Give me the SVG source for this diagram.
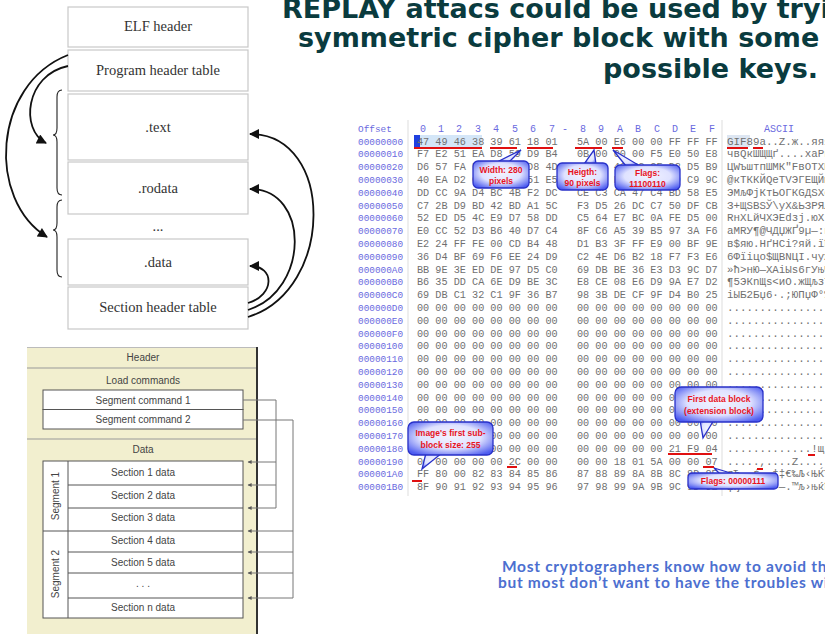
<svg xmlns="http://www.w3.org/2000/svg" width="825" height="635" viewBox="0 0 825 635">
<style>
.elfbox{fill:#fff;stroke:#c8c8c8;stroke-width:1.2}
.elft{font-family:"Liberation Serif",serif;font-size:14.5px;fill:#333;text-anchor:middle}
.arr{fill:none;stroke:#111;stroke-width:1.8}
.brace{fill:none;stroke:#222;stroke-width:1.1}
.mt{font-family:"Liberation Sans",Arial,sans-serif;font-size:10px;fill:#444;text-anchor:middle}
.mbox{fill:#fff;stroke:#555;stroke-width:1}
.mline{fill:none;stroke:#777;stroke-width:1}
.title{font-family:"DejaVu Sans",sans-serif;font-weight:bold;font-size:27px;fill:#0a3b3e}
.off{font-family:"Liberation Mono",monospace;font-size:9.4px;fill:#6a6ae0}
.hdr{font-family:"Liberation Mono",monospace;font-size:10px;fill:#6a6ae0;text-anchor:middle}
.hx{font-family:"Liberation Mono",monospace;font-size:10.2px;fill:#707070}
.asc{font-family:"Liberation Mono",monospace;font-size:10.8px;fill:#707070}
.ul{stroke:#e01010;stroke-width:2}
.co{fill:url(#cog);stroke:#2830c8;stroke-width:1.3}
.cot{font-family:"Liberation Sans",Arial,sans-serif;font-weight:bold;font-size:8.5px;fill:#e8141e;text-anchor:middle}
.note{font-family:Lato,"Open Sans",sans-serif;font-weight:bold;font-size:15.5px;fill:#4c6fd0;letter-spacing:0.7px}
</style>
<defs>
<marker id="ah" viewBox="0 0 10 10" refX="9" refY="5" markerWidth="12" markerHeight="10" markerUnits="userSpaceOnUse" orient="auto"><path d="M0,0 L10,5 L0,10 z" fill="#111"/></marker>
<marker id="sa" viewBox="0 0 10 10" refX="9" refY="5" markerWidth="6" markerHeight="4" markerUnits="userSpaceOnUse" orient="auto"><path d="M0,0 L10,5 L0,10 z" fill="#555"/></marker>
<radialGradient id="cog" cx="50%" cy="45%" r="65%">
<stop offset="0" stop-color="#f2f3ff"/><stop offset="0.55" stop-color="#dfe2ff"/><stop offset="1" stop-color="#4d5cf0"/>
</radialGradient>
</defs>

<!-- ELF diagram -->
<g id="elf-header"><rect class="elfbox" x="68" y="7" width="180" height="40"/><text class="elft" x="158" y="31">ELF header</text></g>
<g id="program-header-table"><rect class="elfbox" x="68" y="50" width="180" height="41"/><text class="elft" x="158" y="75">Program header table</text></g>
<g id="text-section"><rect class="elfbox" x="68" y="94" width="180" height="66"/><text class="elft" x="158" y="132">.text</text></g>
<g id="rodata-section"><rect class="elfbox" x="68" y="162" width="180" height="52"/><text class="elft" x="158" y="193">.rodata</text></g>
<g id="ellipsis"><text class="elft" x="158" y="231">...</text></g>
<g id="data-section"><rect class="elfbox" x="68" y="239" width="180" height="46"/><text class="elft" x="158" y="267">.data</text></g>
<g id="section-header-table"><rect class="elfbox" x="68" y="287" width="180" height="42"/><text class="elft" x="158" y="312">Section header table</text></g>
<g id="braces">
<path class="brace" d="M62,90 Q57,90 57,97 V128 Q57,135 53,135 Q57,135 57,142 V188 Q57,195 62,195"/>
<path class="brace" d="M62,200 Q57,200 57,207 V223 Q57,230 53,230 Q57,230 57,237 V270 Q57,277 62,277"/>
</g>
<g id="elf-connectors">
<path class="arr" d="M68,66 C25,75 20,130 46,143" marker-end="url(#ah)"/>
<path class="arr" d="M68,55 C-8,85 -13,200 47,237" marker-end="url(#ah)"/>
<path class="arr" d="M248,303 C275,295 275,266 250,266" marker-end="url(#ah)"/>
<path class="arr" d="M248,310 C310,290 310,189 250,189" marker-end="url(#ah)"/>
<path class="arr" d="M248,317 C335,290 335,134 250,134" marker-end="url(#ah)"/>
</g>

<!-- Mach-O diagram -->
<g id="macho-frame">
<rect x="27" y="347" width="230" height="287" fill="#f2efcf"/>
<line x1="27" y1="347.5" x2="257" y2="347.5" stroke="#bbb" stroke-width="1"/>
<line x1="27" y1="368" x2="257" y2="368" stroke="#999" stroke-width="1"/>
<line x1="27" y1="439" x2="257" y2="439" stroke="#999" stroke-width="1"/>
<line x1="257" y1="347" x2="257" y2="634" stroke="#333" stroke-width="2"/>
</g>
<g id="macho-header"><text class="mt" x="143" y="361">Header</text></g>
<g id="load-commands"><text class="mt" x="143" y="384">Load commands</text></g>
<g id="segment-command-1"><rect class="mbox" x="43" y="390" width="200" height="19.5"/><text class="mt" x="143" y="404">Segment command 1</text></g>
<g id="segment-command-2"><rect class="mbox" x="43" y="409.5" width="200" height="19.5"/><text class="mt" x="143" y="423">Segment command 2</text></g>
<g id="macho-data"><text class="mt" x="143" y="453">Data</text></g>
<g id="data-block">
<rect class="mbox" x="43" y="461" width="200" height="157"/>
<line x1="68" y1="461" x2="68" y2="618" stroke="#555"/>
<line x1="43" y1="531" x2="243" y2="531" stroke="#555"/>
</g>
<g id="segment-1"><text class="mt" transform="translate(59,496) rotate(-90)">Segment 1</text></g>
<g id="segment-2"><text class="mt" transform="translate(59,574) rotate(-90)">Segment 2</text></g>
<g id="section-1"><text class="mt" x="143" y="476">Section 1 data</text><line x1="68" y1="485" x2="243" y2="485" stroke="#555"/></g>
<g id="section-2"><text class="mt" x="143" y="499">Section 2 data</text><line x1="68" y1="508" x2="243" y2="508" stroke="#555"/></g>
<g id="section-3"><text class="mt" x="143" y="521">Section 3 data</text></g>
<g id="section-4"><text class="mt" x="143" y="544">Section 4 data</text><line x1="68" y1="552" x2="243" y2="552" stroke="#555"/></g>
<g id="section-5"><text class="mt" x="143" y="566">Section 5 data</text><line x1="68" y1="573" x2="243" y2="573" stroke="#555"/></g>
<g id="section-dots"><text class="mt" x="143" y="587">. . .</text><line x1="68" y1="598" x2="243" y2="598" stroke="#555"/></g>
<g id="section-n"><text class="mt" x="143" y="611">Section n data</text></g>
<g id="macho-connectors">
<path class="mline" d="M243,400 H276 V508"/>
<path class="mline" d="M276,462 H248" marker-end="url(#sa)"/>
<path class="mline" d="M276,485 H248" marker-end="url(#sa)"/>
<path class="mline" d="M276,508 H248" marker-end="url(#sa)"/>
<path class="mline" d="M243,420 H293 V598"/>
<path class="mline" d="M293,531 H248" marker-end="url(#sa)"/>
<path class="mline" d="M293,552 H248" marker-end="url(#sa)"/>
<path class="mline" d="M293,573 H248" marker-end="url(#sa)"/>
<path class="mline" d="M293,598 H248" marker-end="url(#sa)"/>
</g>

<!-- Title -->
<g id="title">
<text class="title" x="282" y="17.5">REPLAY attacs could be used by tryi</text>
<text class="title" x="298" y="47">symmetric cipher block with some h</text>
<text class="title" x="603" y="78">possible keys.</text>
</g>

<!-- Hex dump -->
<g id="hexdump">
<line x1="408" y1="120" x2="408" y2="496" stroke="#ddd"/>
<line x1="722" y1="120" x2="722" y2="496" stroke="#ddd"/>
<rect x="414" y="135" width="68" height="12" fill="#d4e6f8"/>
<rect x="414" y="135" width="6" height="12" fill="#2040e0"/>
<rect x="727" y="135" width="23" height="12" fill="#dde6f2"/>
<text class="off" x="358" y="131.5">Offset</text>
<g class="hdr">
<text x="423" y="131.5">0</text><text x="441" y="131.5">1</text><text x="459" y="131.5">2</text><text x="478" y="131.5">3</text><text x="496" y="131.5">4</text><text x="515" y="131.5">5</text><text x="533" y="131.5">6</text><text x="552" y="131.5">7</text><text x="565" y="131.5">-</text><text x="583" y="131.5">8</text><text x="601" y="131.5">9</text><text x="620" y="131.5">A</text><text x="638" y="131.5">B</text><text x="657" y="131.5">C</text><text x="675" y="131.5">D</text><text x="693" y="131.5">E</text><text x="712" y="131.5">F</text><text x="779" y="131.5">ASCII</text>
</g>
<g class="off">
<text x="358" y="144.5">00000000</text><text x="358" y="157.3">00000010</text><text x="358" y="170.1">00000020</text><text x="358" y="182.9">00000030</text><text x="358" y="195.7">00000040</text><text x="358" y="208.5">00000050</text><text x="358" y="221.3">00000060</text><text x="358" y="234.1">00000070</text><text x="358" y="246.9">00000080</text><text x="358" y="259.7">00000090</text><text x="358" y="272.5">000000A0</text><text x="358" y="285.3">000000B0</text><text x="358" y="298.1">000000C0</text><text x="358" y="310.9">000000D0</text><text x="358" y="323.7">000000E0</text><text x="358" y="336.5">000000F0</text><text x="358" y="349.3">00000100</text><text x="358" y="362.1">00000110</text><text x="358" y="374.9">00000120</text><text x="358" y="387.7">00000130</text><text x="358" y="400.5">00000140</text><text x="358" y="413.3">00000150</text><text x="358" y="426.1">00000160</text><text x="358" y="438.9">00000170</text><text x="358" y="451.7">00000180</text><text x="358" y="464.5">00000190</text><text x="358" y="477.3">000001A0</text><text x="358" y="490.1">000001B0</text>
</g>
<g class="hx">
<text x="417" y="144.5">47 49 46 38 39 61 18 01</text><text x="577" y="144.5">5A 00 E6 00 00 FF FF FF</text>
<text x="417" y="157.3">F7 E2 51 EA D8 59 D9 B4</text><text x="577" y="157.3">0B 00 00 00 F5 E0 50 E8</text>
<text x="417" y="170.1">D6 57 FA F8 F2 EF D8 4D</text><text x="577" y="170.1">CA 22 46 E2 CE D2 D5 B9</text>
<text x="417" y="182.9">40 EA D2 CA CA C9 51 E5</text><text x="577" y="182.9">54 56 DD C3 C5 D9 C9 9C</text>
<text x="417" y="195.7">DD CC 9A D4 BC 4B F2 DC</text><text x="577" y="195.7">CE C3 CA 47 C4 BD 58 E5</text>
<text x="417" y="208.5">C7 2B D9 BD 42 BD A1 5C</text><text x="577" y="208.5">F3 D5 26 DC C7 50 DF CB</text>
<text x="417" y="221.3">52 ED D5 4C E9 D7 58 DD</text><text x="577" y="221.3">C5 64 E7 BC 0A FE D5 00</text>
<text x="417" y="234.1">E0 CC 52 D3 B6 40 D7 C4</text><text x="577" y="234.1">8F C6 A5 39 B5 97 3A F6</text>
<text x="417" y="246.9">E2 24 FF FE 00 CD B4 48</text><text x="577" y="246.9">D1 B3 3F FF E9 00 BF 9E</text>
<text x="417" y="259.7">36 D4 BF 69 F6 EE 24 D9</text><text x="577" y="259.7">C2 4E D6 B2 18 F7 F3 E6</text>
<text x="417" y="272.5">BB 9E 3E ED DE 97 D5 C0</text><text x="577" y="272.5">69 DB BE 36 E3 D3 9C D7</text>
<text x="417" y="285.3">B6 35 DD CA 6E D9 BE 3C</text><text x="577" y="285.3">E8 CE 08 E6 D9 9A E7 D2</text>
<text x="417" y="298.1">69 DB C1 32 C1 9F 36 B7</text><text x="577" y="298.1">98 3B DE CF 9F D4 B0 25</text>
<text x="417" y="310.9">00 00 00 00 00 00 00 00</text><text x="577" y="310.9">00 00 00 00 00 00 00 00</text>
<text x="417" y="323.7">00 00 00 00 00 00 00 00</text><text x="577" y="323.7">00 00 00 00 00 00 00 00</text>
<text x="417" y="336.5">00 00 00 00 00 00 00 00</text><text x="577" y="336.5">00 00 00 00 00 00 00 00</text>
<text x="417" y="349.3">00 00 00 00 00 00 00 00</text><text x="577" y="349.3">00 00 00 00 00 00 00 00</text>
<text x="417" y="362.1">00 00 00 00 00 00 00 00</text><text x="577" y="362.1">00 00 00 00 00 00 00 00</text>
<text x="417" y="374.9">00 00 00 00 00 00 00 00</text><text x="577" y="374.9">00 00 00 00 00 00 00 00</text>
<text x="417" y="387.7">00 00 00 00 00 00 00 00</text><text x="577" y="387.7">00 00 00 00 00 00 00 00</text>
<text x="417" y="400.5">00 00 00 00 00 00 00 00</text><text x="577" y="400.5">00 00 00 00 00 00 00 00</text>
<text x="417" y="413.3">00 00 00 00 00 00 00 00</text><text x="577" y="413.3">00 00 00 00 00 00 00 00</text>
<text x="417" y="426.1">00 00 00 00 00 00 00 00</text><text x="577" y="426.1">00 00 00 00 00 00 00 00</text>
<text x="417" y="438.9">00 00 00 00 00 00 00 00</text><text x="577" y="438.9">00 00 00 00 00 00 00 00</text>
<text x="417" y="451.7">00 00 00 00 00 00 00 00</text><text x="577" y="451.7">00 00 00 00 00 21 F9 04</text>
<text x="417" y="464.5">00 00 00 00 00 2C 00 00</text><text x="577" y="464.5">00 00 18 01 5A 00 00 07</text>
<text x="417" y="477.3">FF 80 00 82 83 84 85 86</text><text x="577" y="477.3">87 88 89 8A 8B 8C 8D 8E</text>
<text x="417" y="490.1">8F 90 91 92 93 94 95 96</text><text x="577" y="490.1">97 98 99 9A 9B 9C 9D 9E</text>
</g>
<g class="asc">
<text x="727" y="144.5">GIF89a..Z.ж..яяя</text>
<text x="727" y="157.3">чвQкШЩЩґ....хаРи</text>
<text x="727" y="170.1">ЦWъштпШМК"FвОТХМ</text>
<text x="727" y="182.9">@кТККЙQеTVЭГЕЩЙм</text>
<text x="727" y="195.7">ЭМљФјКтЬОГКGДЅХе</text>
<text x="727" y="208.5">З+ЩЅBЅЎ\уХ&amp;ЬЗРЯЛ</text>
<text x="727" y="221.3">RнХLйЧXЭЕdзј.юХ.</text>
<text x="727" y="234.1">аМRУ¶@ЧДЏЖҐ9µ—:ц</text>
<text x="727" y="246.9">в$яю.НґHСі?яй.їћ</text>
<text x="727" y="259.7">6Фїiцо$ЩВNЦІ.чуж</text>
<text x="727" y="272.5">»ћ&gt;нЮ—ХАiЫѕ6гУњЧ</text>
<text x="727" y="285.3">¶5ЭКnЩѕ&lt;иО.жЩљзТ</text>
<text x="727" y="298.1">iЫБ2Бџ6·.;ЮПџФ°%</text>
<text x="727" y="310.9">................</text>
<text x="727" y="323.7">................</text>
<text x="727" y="336.5">................</text>
<text x="727" y="349.3">................</text>
<text x="727" y="362.1">................</text>
<text x="727" y="374.9">................</text>
<text x="727" y="387.7">................</text>
<text x="727" y="400.5">................</text>
<text x="727" y="413.3">................</text>
<text x="727" y="426.1">................</text>
<text x="727" y="438.9">................</text>
<text x="727" y="451.7">.............!щ.</text>
<text x="727" y="464.5">.....,....Z.....</text>
<text x="727" y="477.3">яЂ.‚ѓ„…†‡€‰Љ‹ЊЌЋ</text>
<text x="727" y="490.1">Џђ‘’“”•–—.™љ›њќћ</text>
</g>
<g id="underlines">
<line class="ul" x1="414" y1="148" x2="482" y2="148"/>
<line class="ul" x1="490" y1="148" x2="517" y2="148"/>
<line class="ul" x1="527" y1="148" x2="553" y2="148"/>
<line class="ul" x1="575" y1="148" x2="602" y2="148"/>
<line class="ul" x1="612" y1="148" x2="623" y2="148"/>
<line class="ul" x1="727" y1="148" x2="748" y2="148"/>
<line class="ul" x1="753" y1="148" x2="763" y2="148"/>
<line class="ul" x1="668" y1="454" x2="712" y2="454"/>
<line class="ul" x1="703" y1="467" x2="714" y2="467"/>
<line class="ul" x1="808" y1="455" x2="815" y2="455"/>
<line class="ul" x1="757" y1="469" x2="763" y2="469"/>
<line class="ul" x1="507" y1="467" x2="517" y2="467"/>
<line class="ul" x1="412" y1="481" x2="422" y2="481"/>
</g>
</g>

<!-- Callouts -->
<g id="callout-width">
<polygon class="co" points="497,162 509,162 521,150"/>
<rect class="co" x="473" y="161" width="56" height="27" rx="5"/>
<text class="cot" x="501" y="173">Width: 280</text><text class="cot" x="501" y="184">pixels</text>
</g>
<g id="callout-height">
<polygon class="co" points="584,164 596,164 594,150"/>
<rect class="co" x="557" y="163" width="51" height="27" rx="5"/>
<text class="cot" x="582.5" y="175">Heigth:</text><text class="cot" x="582.5" y="186">90 pixels</text>
</g>
<g id="callout-flags1">
<polygon class="co" points="626,166 640,166 613,150"/>
<rect class="co" x="615" y="165" width="65" height="25" rx="5"/>
<text class="cot" x="647.5" y="176">Flags:</text><text class="cot" x="647.5" y="187">11100110</text>
</g>
<g id="callout-first-data">
<polygon class="co" points="700,420 714,420 703,438"/>
<rect class="co" x="675" y="387" width="88" height="35" rx="6"/>
<text class="cot" x="719" y="402">First data block</text><text class="cot" x="719" y="414">(extension block)</text>
</g>
<g id="callout-subblock">
<polygon class="co" points="426,453 442,453 422,469"/>
<rect class="co" x="408" y="422" width="85" height="33" rx="6"/>
<text class="cot" x="450.5" y="436">Image's first sub-</text><text class="cot" x="450.5" y="448">block size: 255</text>
</g>
<g id="callout-flags2">
<polygon class="co" points="720,474 734,474 714,468"/>
<rect class="co" x="688" y="473" width="90" height="16" rx="4"/>
<text class="cot" x="733" y="484">Flags: 00000111</text>
</g>

<!-- Note -->
<g id="note">
<text class="note" x="502" y="572">Most cryptographers know how to avoid th</text>
<text class="note" x="498" y="588">but most don’t want to have the troubles wi</text>
</g>
</svg>
